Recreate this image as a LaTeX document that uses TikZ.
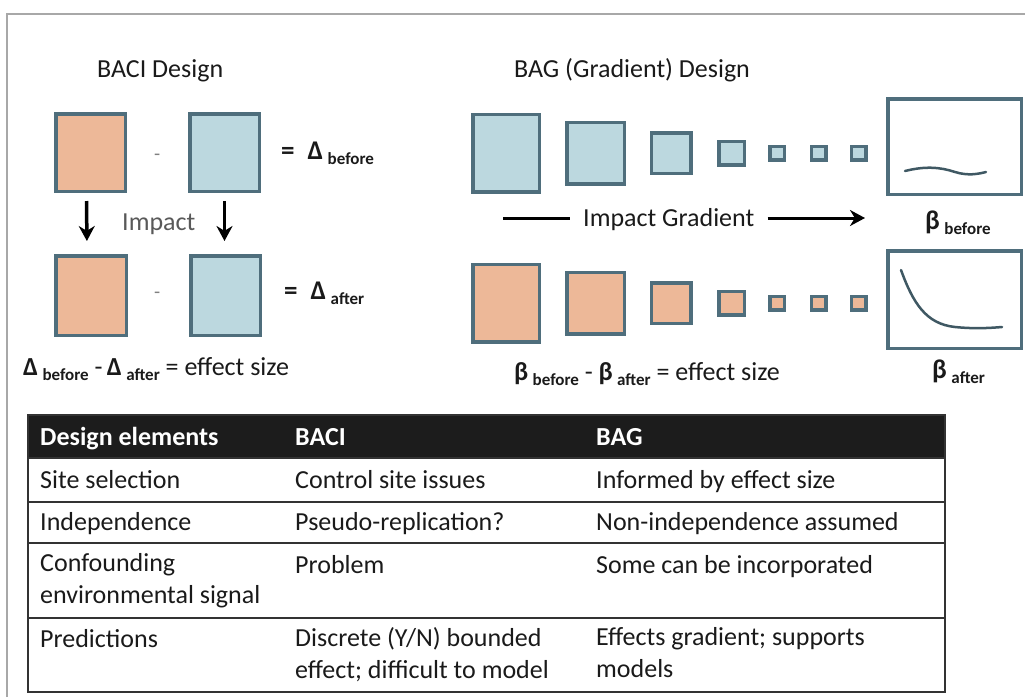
\documentclass[tikz,border=0pt]{standalone}
\usepackage{fontspec}
\setmainfont{Carlito}
\usetikzlibrary{arrows.meta,positioning}
\definecolor{edge}{HTML}{4F6E7C}
\definecolor{peach}{HTML}{EDB898}
\definecolor{pale}{HTML}{BCD8DF}
\definecolor{frame}{HTML}{A8A8A8}
\definecolor{head}{HTML}{1C1C1C}
\definecolor{ink}{HTML}{1A1A1A}
\newcommand\lowtag[1]{\raisebox{-5pt}{\fontsize{17}{20}\selectfont\bfseries #1}}
\tikzset{>={Stealth[length=15pt,width=16pt]},
         x=1pt, y=-1pt,
         box/.style={draw=edge, line width=3.5pt, inner sep=0pt},
         bluesq/.style={box, fill=pale},
         peachsq/.style={box, fill=peach},
         curve/.style={draw=edge!80!black, line width=2.5pt, line cap=round},
         lbl/.style={inner sep=0pt, anchor=base west, text=ink, font=\fontsize{26}{32}\selectfont},
         sym/.style={lbl, font=\fontsize{27}{32}\selectfont\bfseries},
         headcell/.style={lbl, text=white, font=\fontsize{26}{32}\selectfont\bfseries},
         cell/.style={lbl, align=left, anchor=north west,
                      execute at begin node=\rule{0pt}{20pt}},
         rule/.style={draw=black!80, line width=1.6pt}}

\begin{document}
\begin{tikzpicture}
	\useasboundingbox (0,0) rectangle (1025,697);
	\draw[frame, line width=1.5pt] (7,697) -- (7,14) -- (1025,14);

	\node[lbl] (baci) at (97,77) {BACI Design};
	\node[lbl] (bag) at (514,77) {BAG (Gradient) Design};

	\node[peachsq, minimum width=69.5, minimum height=77.5] (tb1) at (90.5,152.5) {};
	\node[bluesq, minimum width=69.5, minimum height=77.5] (tb2) at (224.5,152.5) {};
	\node[peachsq, minimum width=70.5, minimum height=79.5] (bb1) at (91,295.5) {};
	\node[bluesq, minimum width=69.5, minimum height=79.5] (bb2) at (225.5,295.5) {};
	\node[lbl, text=black!50, font=\fontsize{20}{24}\selectfont] (m1) at (154,160) {-};
	\node[lbl, text=black!50, font=\fontsize{20}{24}\selectfont] (m2) at (154,298) {-};
	\node[sym] (dpre) at (281,159) {=\hspace{13pt}Δ\,\lowtag{before}};
	\node[sym] (dpost) at (284,299) {=\hspace{13pt}Δ\,\lowtag{after}};

	\draw[->, line width=3.5pt, shorten <=8pt, shorten >=13pt] ([xshift=-4pt]tb1.south) -- ([xshift=-4pt]bb1.north);
	\draw[->, line width=3.5pt, shorten <=8pt, shorten >=13pt] (tb2.south) -- (tb2.south |- bb2.north);
	\node[lbl, text=black!65] (imp) at (122,230) {Impact};

	\node[lbl] (dbaci) at (23,375) {\textbf{Δ}\,\lowtag{before} -\,\textbf{Δ}\,\lowtag{after} = effect size};

	\foreach \x/\w/\h [count=\i] in {506/70/81, 595.5/61/65, 671/43/44, 731.5/29/27,
	                                 777/18/17, 818.5/18/17, 858.5/18/17} {
	  \node[bluesq, minimum width=\w-3.5, minimum height=\h-3.5] (pre\i) at (\x,153) {};
	  \node[peachsq, minimum width=\w-3.5, minimum height=\h-3.5] (post\i) at (\x,303) {};
	}

	\node[box, fill=white, minimum width=133.5, minimum height=95.5] (gpre) at (954.5,146.5) {};
	\node[box, fill=white, minimum width=133.5, minimum height=97.5] (gpost) at (954.5,299.5) {};
	\draw[curve] (905,171) .. controls (925,166) and (940,167) .. (955,172)
	             .. controls (968,176) and (978,174) .. (986,172);
	\draw[curve] (901,270) .. controls (913,303) and (926,324) .. (955,327)
	             .. controls (975,329) and (990,328) .. (1002,327);
	\node[sym] (bpre) at (925,229) {β\,\lowtag{before}};
	\node[sym] (bpost) at (932,378) {β\,\lowtag{after}};

	\coordinate (gl) at (503,218);
	\coordinate (gr) at (865,218);
	\node[lbl, inner xsep=13pt] (ig) at (570,226) {Impact Gradient};
	\draw[line width=3pt] (gl) -- (gl -| ig.west);
	\draw[->, line width=3pt] (gl -| ig.east) -- (gr);

	\node[lbl] (dbag) at (514,380) {\textbf{β}\,\lowtag{before} - \textbf{β}\,\lowtag{after} = effect size};

	\fill[head] (28,415) rectangle (945,458);
	\draw[rule] (28,415) rectangle (945,692);
	\foreach \y in {458,502,543,618}
	  \draw[rule] (28,\y) -- (945,\y);

	\foreach \x/\t [count=\i] in {40/Design elements, 295/BACI, 596/BAG}
	  \node[headcell] (h\i) at (\x,445) {\t};

	\foreach \y/\a/\b/\c [count=\r] in {
	    488/Site selection/Control site issues/Informed by effect size,
	    530/Independence/Pseudo-replication?/Non-independence assumed,
	    573/{Confounding\\environmental signal}/Problem/Some can be incorporated,
	    647/Predictions/{Discrete (Y/N) bounded\\effect; difficult to model}/{Effects gradient; supports\\models}} {
	  \node[cell] (c\r-1) at (40,\y-20) {\a};
	  \node[cell] (c\r-2) at (295,\y-20) {\b};
	  \node[cell] (c\r-3) at (596,\y-20) {\c};
	}
\end{tikzpicture}
\end{document}
